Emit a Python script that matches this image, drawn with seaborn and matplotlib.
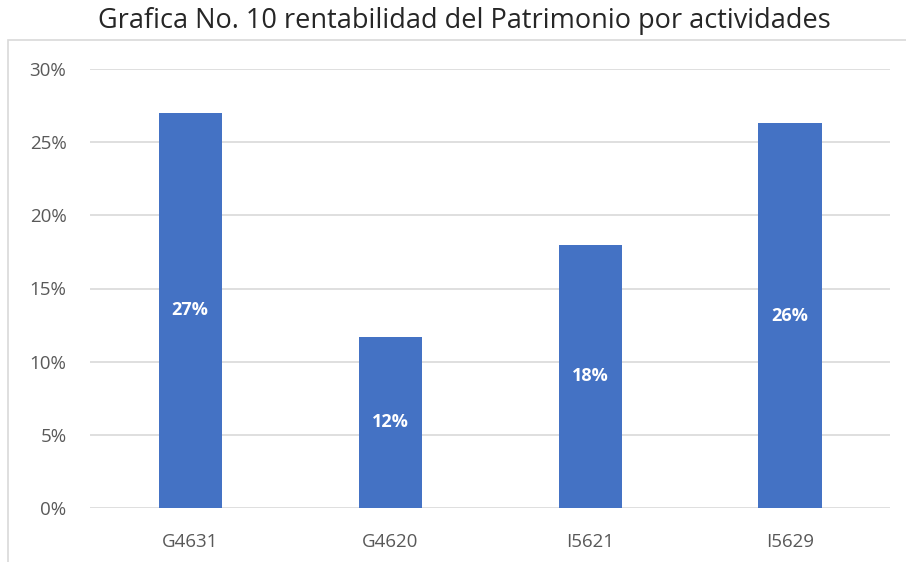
import matplotlib
matplotlib.use('Agg')
import matplotlib.pyplot as plt
from matplotlib.patches import Rectangle
from matplotlib.ticker import FuncFormatter
import seaborn as sns
import pandas as pd

# data
actividades = ['G4631', 'G4620', 'I5621', 'I5629']
rentabilidad = [0.27, 0.117, 0.18, 0.263]
etiquetas = ['27%', '12%', '18%', '26%']

df = pd.DataFrame({'actividad': actividades, 'rentabilidad': rentabilidad})

sns.set_theme(style='white')
plt.rcParams['font.family'] = ['Open Sans', 'DejaVu Sans']

fig = plt.figure(figsize=(9.06, 5.62), dpi=100)
ax = fig.add_axes([90 / 906, 1 - 508 / 562, 800 / 906, 439 / 562])

sns.barplot(data=df, x='actividad', y='rentabilidad', color='#4472C4',
            saturation=1, width=0.315, linewidth=0, ax=ax)

# labels inside the bars
for i, (v, t) in enumerate(zip(rentabilidad, etiquetas)):
    ax.text(i, v / 2, t, ha='center', va='center', color='white',
            fontsize=13, fontweight='bold')

ax.set_ylim(0, 0.30)
ax.set_xlim(-0.5, 3.5)
ax.set_yticks([0, 0.05, 0.10, 0.15, 0.20, 0.25, 0.30])
ax.yaxis.set_major_formatter(FuncFormatter(lambda v, p: '%d%%' % round(v * 100)))
ax.grid(axis='y', color='#d9d9d9', linewidth=1.2)
ax.set_axisbelow(True)
for s in ax.spines.values():
    s.set_visible(False)
ax.set_xlabel('')
ax.set_ylabel('')
ax.tick_params(axis='both', length=0, labelsize=13.5, colors='#595959')
ax.tick_params(axis='y', pad=17)
ax.tick_params(axis='x', pad=18)

# chart border box
fig.patches.append(Rectangle((8 / 906, -0.05), 1.0, 1 - 40 / 562 + 0.05,
                             transform=fig.transFigure, fill=False,
                             edgecolor='#d9d9d9', linewidth=1.2))

fig.text(464 / 906, 1 - 21 / 562, 'Grafica No. 10 rentabilidad del Patrimonio por actividades',
         ha='center', va='center', fontsize=19.5, color='#262626')

plt.savefig('out.png', dpi=100)
